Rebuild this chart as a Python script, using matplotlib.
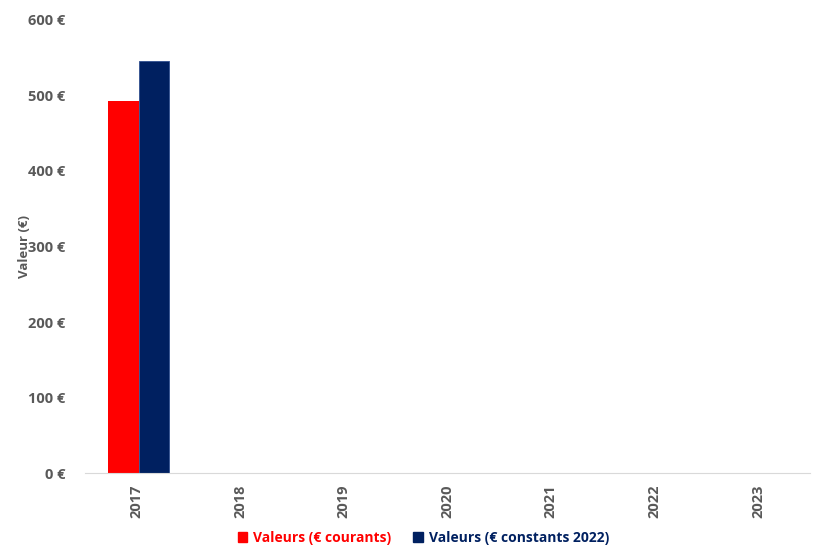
import numpy as np
import matplotlib
matplotlib.use("Agg")
import matplotlib.pyplot as plt
from matplotlib.patches import Patch

years = ["2017", "2018", "2019", "2020", "2021", "2022", "2023"]
courants = [492, 0, 0, 0, 0, 0, 0]
constants = [546, 0, 0, 0, 0, 0, 0]
yticks = [0, 100, 200, 300, 400, 500, 600]

RED = "#ff0000"
NAVY = "#002060"
GREY = "#595959"

plt.rcParams["font.family"] = ["Open Sans", "DejaVu Sans"]

fig = plt.figure(figsize=(8.14, 5.49), dpi=100)
ax = fig.add_axes([0.104, 0.138, 0.891, 0.826])

x = np.arange(len(years))
w = 0.29
ax.bar(x - w / 2 + 0.02, courants, w, color=RED, label="Valeurs (€ courants)")
ax.bar(x + w / 2 + 0.02, constants, w, color=NAVY, edgecolor="#2f4f8f", linewidth=0.6,
       label="Valeurs (€ constants 2022)")

ax.set_xlim(-0.5, len(years) - 0.5)
ax.set_ylim(0, 600)
ax.set_yticks(yticks)
ax.set_yticklabels([f"{v} €" for v in yticks], fontsize=10.5, fontweight="bold", color=GREY)
ax.set_xticks(x)
ax.set_xticklabels(years, rotation=90, fontsize=10.5, fontweight="bold", color=GREY)
ax.tick_params(length=0, pad=8)
ax.tick_params(axis="y", pad=14)
ax.set_ylabel("Valeur (€)", fontsize=9.5, fontweight="bold", color=GREY, labelpad=-2)

for s in ["top", "right", "left"]:
    ax.spines[s].set_visible(False)
ax.spines["bottom"].set_color("#d9d9d9")

handles = [Patch(color=RED), Patch(color=NAVY)]
fig.legend(handles, ["Valeurs (€ courants)", "Valeurs (€ constants 2022)"],
           loc="center", bbox_to_anchor=(0.52, 0.02), ncol=2, frameon=False,
           handlelength=0.7, handleheight=0.7, handletextpad=0.4, columnspacing=1.6,
           labelcolor=[RED, NAVY], prop={"size": 10, "weight": "bold"})

fig.savefig("out.png", dpi=100)
